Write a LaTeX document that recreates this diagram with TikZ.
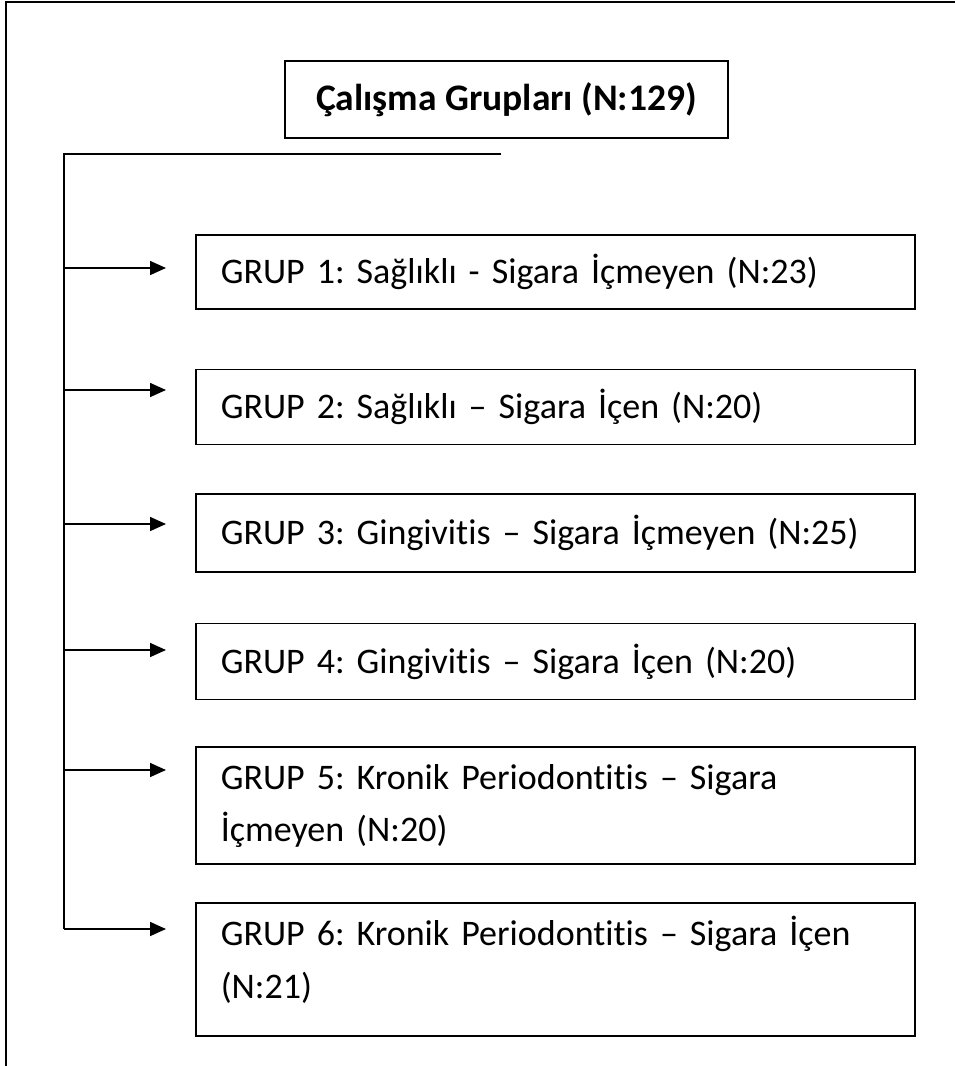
\documentclass[tikz,border=0pt]{standalone}
\usepackage{fontspec}
\setmainfont{Carlito}[Ligatures=NoCommon]
\usetikzlibrary{arrows.meta,positioning}
\frenchspacing
\tikzset{
  titlebox/.style={draw=black,line width=1.6pt,minimum width=443pt,minimum height=77pt,align=center,font=\fontsize{37.5}{44}\selectfont\bfseries},
  grupbox/.style={draw=black,line width=1.6pt,minimum width=719pt,text width=669pt,inner xsep=25pt,inner ysep=0pt,align=left,font=\fontsize{36}{52}\selectfont},
  frame/.style={draw=black,line width=2.2pt},
  trunk/.style={draw=black,line width=1.6pt},
  arr/.style={-{Triangle[length=16pt,width=14pt]},draw=black,line width=1.6pt,shorten >=29pt}
}
\begin{document}
\begin{tikzpicture}[x=1pt,y=-1pt]
  \useasboundingbox (0,0) rectangle (955,1066);
  \draw[frame] (6,1066) -- (6,2) -- (955,2);
  \node[titlebox] (top) at (506.5,99.5) {Çalışma Grupları (N:129)};
  \node[grupbox,minimum height=74pt,anchor=north west] (g1) at (195,234) {GRUP 1: Sağlıklı - Sigara İçmeyen (N:23)};
  \node[grupbox,minimum height=75pt,below=59pt of g1.south west,anchor=north west] (g2) {GRUP 2: Sağlıklı – Sigara İçen (N:20)};
  \node[grupbox,minimum height=78pt,below=48pt of g2.south west,anchor=north west] (g3) {GRUP 3: Gingivitis – Sigara İçmeyen (N:25)};
  \node[grupbox,minimum height=76pt,below=50pt of g3.south west,anchor=north west] (g4) {GRUP 4: Gingivitis – Sigara İçen (N:20)};
  \node[grupbox,minimum height=117pt,below=46pt of g4.south west,anchor=north west] (g5) {GRUP 5: Kronik Periodontitis – Sigara\\İçmeyen (N:20)};
  \node[grupbox,minimum height=133pt,below=37pt of g5.south west,anchor=north west] (g6) {GRUP 6: Kronik Periodontitis – Sigara İçen\\(N:21)\rule[-24pt]{0pt}{0pt}};
  % bracket under the title
  \coordinate (bk) at (501,154);
  \coordinate (j0) at (64,154);
  \coordinate (j1) at (64,268);
  \coordinate (j2) at (64,390);
  \coordinate (j3) at (64,524);
  \coordinate (j4) at (64,650);
  \coordinate (j5) at (64,770);
  \coordinate (j6) at (64,929);
  \draw[trunk] (bk) -- (j0) -- (j6);
  \foreach \i in {1,...,6}
    \draw[arr] (j\i) -- (j\i -| g\i.west);
\end{tikzpicture}
\end{document}
